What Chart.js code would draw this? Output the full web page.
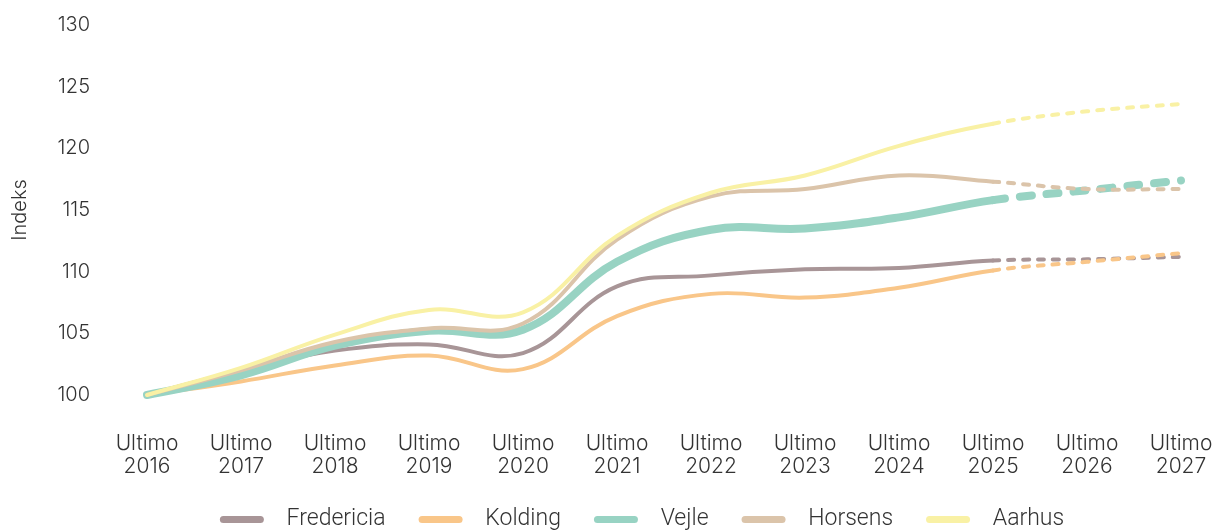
<!DOCTYPE html>
<html>
<head>
<meta charset="utf-8">
<script src="https://cdn.jsdelivr.net/npm/chart.js@4/dist/chart.umd.min.js"></script>
<style>
  html, body { margin: 0; padding: 0; background: #fff; }
  #wrap { width: 1222px; height: 530px; }
</style>
</head>
<body>
<div id="wrap"><canvas id="Chart1"></canvas></div>
<script>
const years = ["2016", "2017", "2018", "2019", "2020", "2021", "2022", "2023", "2024", "2025", "2026", "2027"];
const labels = years.map(y => ["Ultimo", y]);

const fredericia = [100, 102.0, 103.6, 104.1, 103.4, 108.8, 109.7, 110.2, 110.3, 110.9, 111.0, 111.2];
const kolding    = [100, 101.1, 102.4, 103.2, 102.1, 106.4, 108.2, 107.9, 108.7, 110.1, 110.8, 111.5];
const vejle      = [100, 101.6, 104.0, 105.2, 105.3, 110.8, 113.4, 113.5, 114.4, 115.8, 116.6, 117.4];
const horsens    = [100, 102.0, 104.3, 105.4, 105.8, 112.6, 116.1, 116.7, 117.8, 117.3, 116.7, 116.7];
const aarhus     = [100, 102.2, 104.9, 106.9, 106.7, 112.9, 116.4, 117.8, 120.2, 122.0, 123.0, 123.6];

const yTicks = [100, 105, 110, 115, 120, 125, 130];

// last actual year index, everything after is forecast (dashed)
const lastActual = 9;

function makeSet(label, data, color, width, dash, order) {
  return {
    label: label,
    data: data,
    borderColor: color,
    backgroundColor: color,
    borderWidth: width,
    borderCapStyle: "round",
    borderJoinStyle: "round",
    pointRadius: 0,
    pointHoverRadius: 0,
    tension: 0.4,
    fill: false,
    clip: false,
    order: order,
    segment: {
      borderDash: ctx => ctx.p0DataIndex >= lastActual ? dash : undefined
    }
  };
}

// nudge the legend a bit left of the plot centre
const legendShift = {
  id: "legendShift",
  afterLayout(chart) {
    if (!chart.legend) return;
    chart.legend.left -= 22;
    chart.legend.right -= 22;
  }
};

let lineChart = null;

function drawChart() {
  const canvas = document.getElementById("Chart1");
  const ctx = canvas.getContext("2d");

  if (lineChart) lineChart.destroy();

  lineChart = new Chart(ctx, {
    type: "line",
    data: {
      labels: labels,
      datasets: [
        makeSet("Fredericia", fredericia, "#a89597", 4, [6, 9], 5),
        makeSet("Kolding", kolding, "#f9c689", 4, [6, 9], 4),
        makeSet("Vejle", vejle, "#98d3c3", 8, [12, 15], 3),
        makeSet("Horsens", horsens, "#dbc4aa", 4, [6, 9], 2),
        makeSet("Aarhus", aarhus, "#f9f1a5", 4, [6, 9], 1)
      ]
    },
    plugins: [legendShift],
    options: {
      responsive: true,
      maintainAspectRatio: false,
      animation: false,
      layout: {
        padding: { top: 25, right: 41, bottom: 0, left: 0 }
      },
      plugins: {
        legend: {
          position: "bottom",
          fullSize: false,
          maxHeight: 55,
          labels: {
            boxWidth: 44,
            boxHeight: 7,
            useBorderRadius: true,
            borderRadius: 3.5,
            padding: 33,
            color: "#333",
            font: { family: "Roboto", size: 23, weight: "300" },
            sort: (a, b) => a.datasetIndex - b.datasetIndex,
            generateLabels: function(chart) {
              const items = Chart.defaults.plugins.legend.labels.generateLabels(chart);
              items.forEach(it => {
                it.text = "  " + it.text;
                it.lineWidth = 0;
                it.strokeStyle = "rgba(0,0,0,0)";
              });
              return items;
            }
          }
        },
        tooltip: { enabled: false }
      },
      scales: {
        x: {
          offset: false,
          afterFit: function(scale) {
            scale.height = 80;
            scale.paddingLeft = 0;
            scale.paddingRight = 0;
          },
          grid: { display: false, drawTicks: false },
          border: { display: false },
          ticks: {
            padding: 37,
            maxRotation: 0,
            autoSkip: false,
            color: "#333",
            font: { family: "Inter", size: 21, weight: "300", lineHeight: 1.1 }
          }
        },
        y: {
          min: 100,
          max: 130,
          afterBuildTicks: function(scale) {
            scale.ticks = yTicks.map(v => ({ value: v }));
          },
          afterFit: function(scale) {
            scale.width = 147;
            scale.paddingTop = 0;
            scale.paddingBottom = 0;
          },
          grid: { display: false, drawTicks: false },
          border: { display: false },
          title: {
            display: true,
            text: "Indeks",
            color: "#333",
            font: { family: "Inter", size: 20, weight: "300" },
            padding: { top: 8, bottom: 0 }
          },
          ticks: {
            padding: 57,
            color: "#333",
            font: { family: "Inter", size: 20, weight: "300" }
          }
        }
      }
    }
  });
}

drawChart();
</script>
</body>
</html>
